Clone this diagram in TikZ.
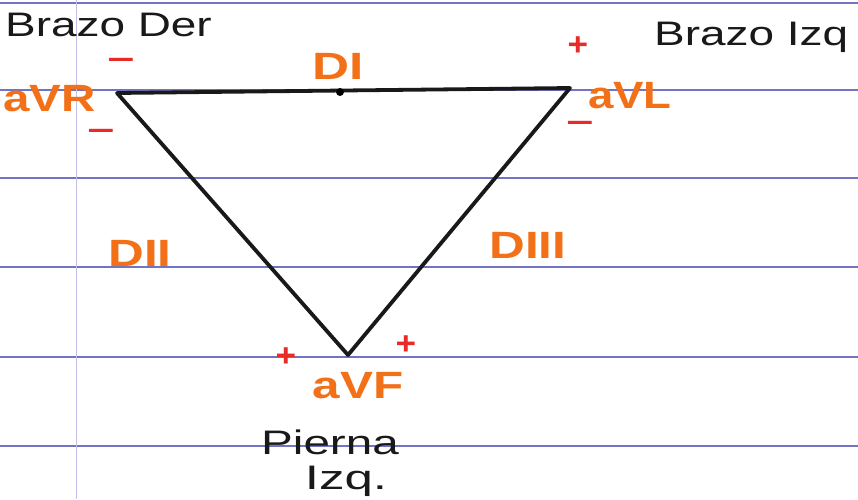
\documentclass[tikz,border=0pt]{standalone}
\usepackage{graphicx}
\usepackage{fontspec}
\setmainfont{Liberation Sans}
\newcommand{\wide}[2]{\scalebox{#1}[1]{#2}}
\begin{document}
\begin{tikzpicture}[x=1pt,y=-1pt,
  ruled/.style={draw=ruleblue,line width=1.3pt},
  margin/.style={draw=ruleblue!45,line width=0.8pt},
  edge/.style={draw=black!90,line width=3.8pt,line join=round,line cap=round},
  lead/.style={text=leadorange,font=\fontsize{38}{38}\selectfont\bfseries,inner sep=0pt},
  sign/.style={text=signred,font=\fontsize{32}{32}\selectfont\bfseries,inner sep=0pt},
  hand/.style={text=black!90,font=\fontsize{34}{34}\selectfont,inner sep=0pt}]
\definecolor{ruleblue}{RGB}{115,115,195}
\definecolor{leadorange}{RGB}{242,112,24}
\definecolor{signred}{RGB}{232,42,40}
\useasboundingbox[fill=white] (0,0) rectangle (858,499);
% notebook rules
\foreach \yy in {3,90,178,267,357,446} \draw[ruled] (0,\yy) -- (858,\yy);
\draw[margin] (76,0) -- (76,499);
% triangle
\coordinate (R) at (117,93);
\coordinate (L) at (570,88);
\coordinate (F) at (348,355);
\coordinate (M) at (340,92);
\draw[edge] (R) -- (L) -- (F) -- cycle;
\fill[black] (M) circle (4);
% texts
\node[hand,anchor=west] (bder) at (5,25) {\wide{1.35}{Brazo Der}};
\node[hand,anchor=west] (bizq) at (654,37) {\wide{1.35}{Brazo Izq}};
\node[lead] (di) at (338,66) {\wide{1.35}{DI}};
\node[lead] (dii) at (140,253) {\wide{1.3}{DII}};
\node[lead] (diii) at (528,245) {\wide{1.3}{DIII}};
\node[lead,anchor=east] (avr) at (96,99) {\wide{1.25}{aVR}};
\node[lead,anchor=west] (avl) at (588,96) {\wide{1.2}{aVL}};
\node[lead] (avf) at (358,386) {\wide{1.3}{aVF}};
\node[hand] (pierna) at (330,442) {\wide{1.4}{Pierna}};
\node[hand] (izq) at (346,481) {\wide{1.5}{Izq.}};
% signs
\node[sign] (s1) at (121,63) {\wide{1.5}{\textendash}};
\node[sign] (s2) at (101,134) {\wide{1.5}{\textendash}};
\node[sign] (s3) at (578,46) {\wide{1.1}{+}};
\node[sign] (s4) at (580,126) {\wide{1.5}{\textendash}};
\node[sign] (s5) at (286,357) {\wide{1.1}{+}};
\node[sign] (s6) at (406,345) {\wide{1.1}{+}};
\end{tikzpicture}
\end{document}
